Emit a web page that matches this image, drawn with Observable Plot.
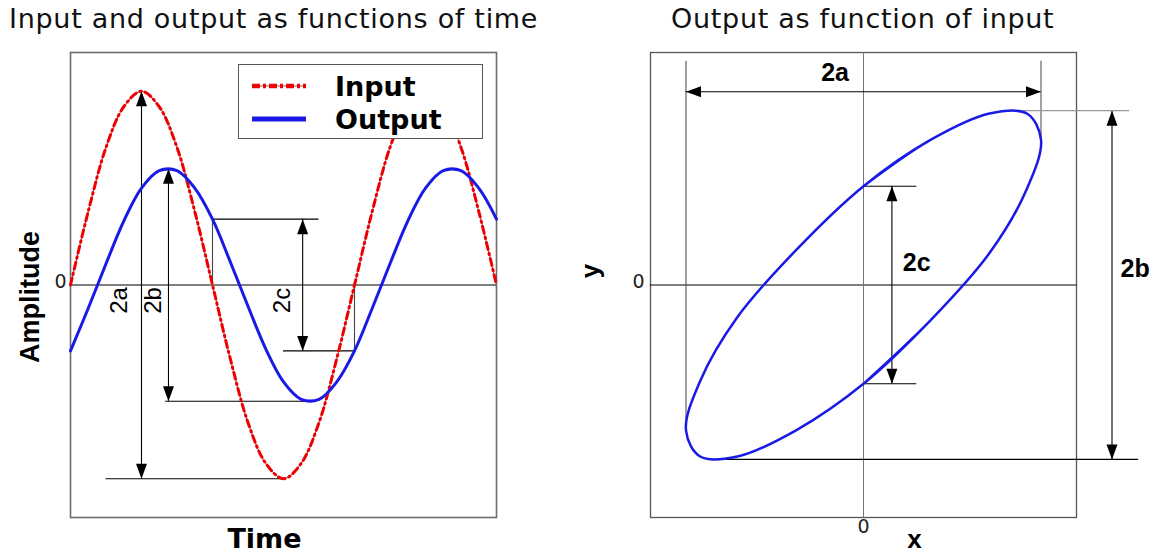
<!DOCTYPE html>
<html>
<head>
<meta charset="utf-8">
<script src="https://cdn.jsdelivr.net/npm/d3@7"></script>
<script src="https://cdn.jsdelivr.net/npm/@observablehq/plot@0.6"></script>
<style>
  body { margin: 0; background: #fff; }
  #wrap { position: relative; width: 1159px; height: 559px; overflow: hidden; font-family: "DejaVu Sans", Verdana, sans-serif; }
  .title { position: absolute; top: 4px; font-size: 27px; letter-spacing: 0.7px; line-height: 30px; color: #111; white-space: nowrap; }
  .panel { position: absolute; top: 0; overflow: visible; }
  #legend { position: absolute; left: 238px; top: 64px; width: 243px; height: 73px; border: 1.5px solid #555; background: #fff; }
  #legend .row { position: absolute; left: 0; height: 34px; display: flex; align-items: center; }
  #legend .row span { position: absolute; left: 96px; font-weight: bold; font-size: 27px; color: #000; }
</style>
</head>
<body>
<div id="wrap">
  <div class="title" style="left:9px">Input and output as functions of time</div>
  <div class="title" style="left:671px">Output as function of input</div>
</div>
<script>
// Sampled time axis (one period = 4 time units)
const time = [0, 0.25, 0.5, 0.75, 1, 1.25, 1.5, 1.75, 2, 2.25, 2.5, 2.75, 3,
              3.25, 3.5, 3.75, 4, 4.25, 4.5, 4.75, 5, 5.25, 5.5, 5.75, 6];
// Input signal
const inputAmp = [0, 0.38, 0.71, 0.92, 1, 0.92, 0.71, 0.38, 0, -0.38, -0.71, -0.92, -1,
                  -0.92, -0.71, -0.38, 0, 0.38, 0.71, 0.92, 1, 0.92, 0.71, 0.38, 0];
// Output signal (smaller, lagging the input)
const outputAmp = [-0.34, -0.12, 0.11, 0.33, 0.5, 0.59, 0.59, 0.5, 0.34, 0.12, -0.11, -0.33, -0.5,
                   -0.59, -0.59, -0.5, -0.34, -0.12, 0.11, 0.33, 0.5, 0.59, 0.59, 0.5, 0.34];
// Axis tick labels
const ampTicks = [0];
const inTicks = [0];

// Characteristic levels of the loop
const a = 1;      // input amplitude
const b = 0.6;    // output amplitude
const c = 0.34;   // output where input crosses zero

const series = time.map((t, i) => ({t, input: inputAmp[i], output: outputAmp[i]}));

// Filled arrow tip: point at the origin, pointing up before rotation
const tip = {draw(ctx) { ctx.moveTo(0, 0); ctx.lineTo(-5.5, 15); ctx.lineTo(5.5, 15); ctx.closePath(); }};

const sans = "Liberation Sans, Arial, sans-serif";
const verd = "DejaVu Sans, Verdana, sans-serif";

// ---- Left panel: signals over time ----
const tA = 1, tB = 1.38, tC = 3.27;
const leftV = [
  {x: 2, y1: 0, y2: c, s: "#444"},
  {x: 4, y1: -c, y2: 0, s: "#444"},
  {x: tA, y1: a, y2: -a, s: "#000"},
  {x: tB, y1: b, y2: -b, s: "#000"},
  {x: tC, y1: c, y2: -c, s: "#000"}
];
const leftH = [
  {y: -a, x1: 0.5, x2: 3},
  {y: -b, x1: 1.34, x2: 3.38},
  {y: c, x1: 2, x2: 3.5},
  {y: -c, x1: 3, x2: 4}
];
const leftHeads = [
  {x: tA, y: a, r: 0}, {x: tA, y: -a, r: 180},
  {x: tB, y: b, r: 0}, {x: tB, y: -b, r: 180},
  {x: tC, y: c, r: 0}, {x: tC, y: -c, r: 180}
];
const leftLabels = [
  {x: 0.69, y: -0.08, text: "2a"},
  {x: 1.16, y: -0.08, text: "2b"},
  {x: 2.99, y: -0.08, text: "2c"}
];

const left = Plot.plot({
  width: 580, height: 559,
  marginLeft: 70, marginRight: 84, marginTop: 52, marginBottom: 42,
  style: {fontFamily: sans, background: "transparent", color: "#000", overflow: "visible"},
  x: {domain: [0, 6], axis: null},
  y: {domain: [-1.2, 1.2], axis: null},
  marks: [
    Plot.frame({stroke: "#6b6b6b", strokeWidth: 1.6}),
    Plot.text(ampTicks, {y: d => d, text: d => String(d), frameAnchor: "left", dx: -4, dy: -3, textAnchor: "end", fontSize: 19, fontFamily: verd, fill: "#222"}),
    Plot.ruleY([0], {stroke: "#000", strokeWidth: 1}),
    Plot.ruleX(leftV, {x: "x", y1: "y1", y2: "y2", stroke: "s", strokeWidth: 1.1}),
    Plot.ruleY(leftH, {y: "y", x1: "x1", x2: "x2", stroke: "#000", strokeWidth: 1.1}),
    Plot.line(series, {x: "t", y: "input", stroke: "#7a6a70", strokeWidth: 1, curve: "catmull-rom"}),
    Plot.line(series, {x: "t", y: "input", stroke: "#ee0000", strokeWidth: 3, strokeDasharray: "7,4,1.5,4", curve: "catmull-rom"}),
    Plot.line(series, {x: "t", y: "output", stroke: "#1a1ae6", strokeWidth: 3, curve: "catmull-rom"}),
    Plot.dot(leftHeads, {x: "x", y: "y", rotate: "r", symbol: tip, fill: "#000", stroke: "none"}),
    Plot.text(leftLabels, {x: "x", y: "y", text: "text", rotate: -90, fontSize: 24, fill: "#000"}),
    Plot.text(["Amplitude"], {frameAnchor: "left", textAnchor: "middle", dx: -40, dy: 12, rotate: -90, fontSize: 27, fontWeight: "bold", fill: "#000"}),
    Plot.text(["Time"], {frameAnchor: "bottom", textAnchor: "middle", dx: -19, dy: 30, fontSize: 27, fontFamily: verd, fontWeight: "bold", fill: "#000"})
  ]
});

// ---- Right panel: output against input ----
const xTop = 0.81;   // input where output peaks
const yLeft = -0.5;  // output at the input minimum
const rightV = [
  {x: -a, y1: 0.77, y2: yLeft, s: "#555"},
  {x: a, y1: 0.77, y2: b - 0.1, s: "#555"},
  {x: 1.40, y1: b, y2: -b, s: "#000"},
  {x: 0.16, y1: c, y2: -c, s: "#000"}
];
const rightH = [
  {y: 0.665, x1: -a, x2: a, s: "#000"},
  {y: b, x1: xTop, x2: 1.5, s: "#999"},
  {y: -b, x1: -xTop, x2: 1.55, s: "#000"},
  {y: c, x1: 0, x2: 0.30, s: "#000"},
  {y: -c, x1: 0, x2: 0.30, s: "#000"}
];
const rightHeads = [
  {x: -a, y: 0.665, r: -90}, {x: a, y: 0.665, r: 90},
  {x: 1.40, y: b, r: 0}, {x: 1.40, y: -b, r: 180},
  {x: 0.16, y: c, r: 0}, {x: 0.16, y: -c, r: 180}
];
const rightLabels = [
  {x: -0.16, y: 0.73, text: "2a"},
  {x: 1.53, y: 0.055, text: "2b"},
  {x: 0.30, y: 0.075, text: "2c"}
];

const right = Plot.plot({
  width: 599, height: 559,
  marginLeft: 90, marginRight: 83, marginTop: 52, marginBottom: 42,
  style: {fontFamily: sans, background: "transparent", color: "#000", overflow: "visible"},
  x: {domain: [-1.2, 1.2], axis: null},
  y: {domain: [-0.8, 0.8], axis: null},
  marks: [
    Plot.frame({stroke: "#555", strokeWidth: 1.3}),
    Plot.text(inTicks, {y: d => d, text: d => String(d), frameAnchor: "left", dx: -6, dy: -3, textAnchor: "end", fontSize: 19, fontFamily: verd, fill: "#222"}),
    Plot.text(inTicks, {x: d => d, text: d => String(d), frameAnchor: "bottom", dy: 15, fontSize: 19, fontFamily: verd, fill: "#222"}),
    Plot.ruleY([0], {stroke: "#000", strokeWidth: 1}),
    Plot.ruleX([0], {stroke: "#777", strokeWidth: 1}),
    Plot.ruleX(rightV, {x: "x", y1: "y1", y2: "y2", stroke: "s", strokeWidth: 1.1}),
    Plot.ruleY(rightH, {y: "y", x1: "x1", x2: "x2", stroke: "s", strokeWidth: 1.1}),
    Plot.line(series, {x: "input", y: "output", stroke: "#1a1ae6", strokeWidth: 2.5, curve: "catmull-rom"}),
    Plot.dot(rightHeads, {x: "x", y: "y", rotate: "r", symbol: tip, fill: "#000", stroke: "none"}),
    Plot.text(rightLabels, {x: "x", y: "y", text: "text", fontSize: 25, fontWeight: "bold", fill: "#000"}),
    Plot.text(["y"], {frameAnchor: "left", textAnchor: "middle", dx: -60, dy: -14, rotate: -90, fontSize: 26, fontWeight: "bold", fill: "#000"}),
    Plot.text(["x"], {frameAnchor: "bottom", textAnchor: "middle", dx: 51, dy: 30, fontSize: 26, fontWeight: "bold", fill: "#000"})
  ]
});

const wrap = document.getElementById("wrap");
left.classList.add("panel");
left.style.left = "0px";
right.classList.add("panel");
right.style.left = "560px";
wrap.appendChild(left);
wrap.appendChild(right);

// Legend box drawn over the time plot
const legend = document.createElement("div");
legend.id = "legend";
legend.innerHTML = `
  <div class="row" style="top:4px;width:100%">
    <svg width="90" height="34"><line x1="13" x2="67" y1="17" y2="17" stroke="#7a6a70" stroke-width="1"/><line x1="13" x2="67" y1="17" y2="17" stroke="#ee0000" stroke-width="4.5" stroke-dasharray="8,3,3,3"/></svg>
    <span>Input</span>
  </div>
  <div class="row" style="top:37px;width:100%">
    <svg width="90" height="34"><line x1="13" x2="67" y1="17" y2="17" stroke="#1a1ae6" stroke-width="5"/></svg>
    <span>Output</span>
  </div>`;
wrap.appendChild(legend);
</script>
</body>
</html>
